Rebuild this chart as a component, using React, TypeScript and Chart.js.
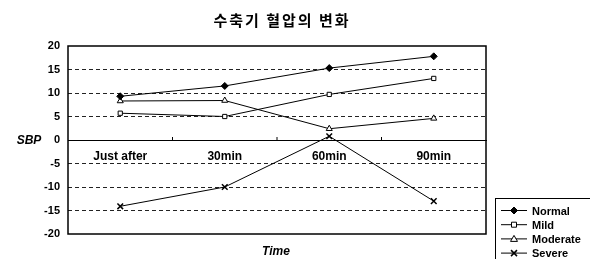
import { useEffect, useRef } from 'react';
import { Chart, registerables } from 'chart.js';

Chart.register(...registerables);

const categories = ['Just after', '30min', '60min', '90min'];
const seriesNames = ['Normal', 'Mild', 'Moderate', 'Severe'];
const normal = [9.3, 11.5, 15.3, 17.8];
const mild = [5.7, 5.0, 9.7, 13.1];
const moderate = [8.3, 8.4, 2.4, 4.6];
const severe = [-14.1, -10.0, 0.8, -13.0];
const yMin = -20;
const yMax = 20;
const yStep = 5;
const titleText = '수축기 혈압의 변화';
const yTitle = 'SBP';
const xTitle = 'Time';

const markerStyles = ['rectRot', 'rect', 'triangle', 'crossRot'];
const markerFill = ['#000', '#fff', '#fff', '#000'];
const markerRadius = [3.5, 3, 3.5, 4];

function drawMarker(ctx: CanvasRenderingContext2D, kind: string, x: number, y: number) {
  ctx.save();
  ctx.strokeStyle = '#000';
  ctx.lineWidth = 1;
  ctx.beginPath();
  if (kind === 'rectRot') {
    ctx.fillStyle = '#000';
    ctx.moveTo(x, y - 3.5); ctx.lineTo(x + 3.5, y); ctx.lineTo(x, y + 3.5); ctx.lineTo(x - 3.5, y); ctx.closePath();
    ctx.fill(); ctx.stroke();
  } else if (kind === 'rect') {
    ctx.fillStyle = '#fff';
    ctx.rect(x - 2.5, y - 2.5, 5, 5); ctx.fill(); ctx.stroke();
  } else if (kind === 'triangle') {
    ctx.fillStyle = '#fff';
    ctx.moveTo(x, y - 3.5); ctx.lineTo(x + 3.5, y + 2.5); ctx.lineTo(x - 3.5, y + 2.5); ctx.closePath();
    ctx.fill(); ctx.stroke();
  } else {
    ctx.lineWidth = 1.5;
    ctx.moveTo(x - 3, y - 3); ctx.lineTo(x + 3, y + 3);
    ctx.moveTo(x + 3, y - 3); ctx.lineTo(x - 3, y + 3); ctx.stroke();
  }
  ctx.restore();
}

const decorPlugin = {
  id: 'decor',
  afterDraw(chart: any) {
    const { ctx, chartArea } = chart;
    const { left, right, top, bottom } = chartArea;
    ctx.save();
    // frame
    ctx.strokeStyle = '#000';
    ctx.lineWidth = 1.5;
    ctx.strokeRect(left, top, right - left, bottom - top);
    // small ticks on zero line at category boundaries
    const xs = chart.scales.x;
    const ys = chart.scales.y;
    const zeroY = ys.getPixelForValue(0);
    ctx.lineWidth = 1;
    for (let i = 0; i < categories.length - 1; i++) {
      const bx = (xs.getPixelForValue(i) + xs.getPixelForValue(i + 1)) / 2;
      ctx.beginPath();
      ctx.moveTo(bx, zeroY);
      ctx.lineTo(bx, zeroY - 3);
      ctx.stroke();
    }
    // title
    ctx.fillStyle = '#000';
    ctx.textAlign = 'center';
    ctx.textBaseline = 'middle';
    ctx.font = 'bold 15px "Noto Sans CJK KR", sans-serif';
    try { (ctx as any).letterSpacing = '2px'; } catch (e) {}
    ctx.fillText(titleText, 282, 20);
    try { (ctx as any).letterSpacing = '0px'; } catch (e) {}
    // axis titles
    ctx.font = 'italic bold 12px "Liberation Sans", Arial, sans-serif';
    ctx.fillText(yTitle, 29, zeroY + 1);
    ctx.fillText(xTitle, 276, 252);
    // legend
    const lx = 495, ly = 198, lw = 100, lh = 70;
    ctx.lineWidth = 1;
    ctx.strokeRect(lx + 0.5, ly + 0.5, lw, lh);
    ctx.font = 'bold 11px "Liberation Sans", Arial, sans-serif';
    ctx.textAlign = 'left';
    chart.data.datasets.forEach((ds: any, i: number) => {
      const y = 210.5 + i * 14.2;
      ctx.beginPath();
      ctx.moveTo(501, y);
      ctx.lineTo(527, y);
      ctx.stroke();
      drawMarker(ctx, markerStyles[i], 514, y);
      ctx.fillStyle = '#000';
      ctx.fillText(ds.label, 532, y + 1);
    });
    ctx.restore();
  },
};

export default function App() {
  const ref = useRef<HTMLCanvasElement | null>(null);
  useEffect(() => {
    if (!ref.current) return;
    const series = [normal, mild, moderate, severe];
    const chart = new Chart(ref.current, {
      type: 'line',
      data: {
        labels: categories,
        datasets: series.map((d, i) => ({
          label: seriesNames[i],
          data: d,
          borderColor: '#000',
          borderWidth: 1,
          pointStyle: markerStyles[i] as any,
          pointRadius: markerRadius[i],
          pointBackgroundColor: markerFill[i],
          pointBorderColor: '#000',
          pointBorderWidth: i === 3 ? 1.5 : 1,
          tension: 0,
        })),
      },
      options: {
        responsive: false,
        animation: false,
        layout: { padding: { left: 0, top: 46, right: 104, bottom: 25 } },
        plugins: { legend: { display: false }, title: { display: false }, tooltip: { enabled: false } },
        scales: {
          x: {
            type: 'category',
            offset: true,
            position: { y: 0 } as any,
            grid: { display: true, drawOnChartArea: false, drawTicks: false, offset: true },
            border: { display: true, color: '#000', width: 1 },
            ticks: {
              padding: 9,
              color: '#000',
              maxRotation: 0,
              font: { family: '"Liberation Sans", Arial, sans-serif', size: 12, weight: 'bold' },
            },
            afterFit(scale: any) { scale.height = 0; },
          },
          y: {
            min: yMin,
            max: yMax,
            ticks: {
              stepSize: yStep,
              padding: 8,
              color: '#000',
              font: { family: '"Liberation Sans", Arial, sans-serif', size: 11, weight: 'bold' },
            },
            grid: {
              drawTicks: false,
              lineWidth: 1,
              color: (c: any) => {
                const v = c.tick ? c.tick.value : 0;
                return v === 0 || v === yMin || v === yMax ? 'rgba(0,0,0,0)' : '#222';
              },
            },
            border: { display: false, dash: [4, 3] },
            afterFit(scale: any) { scale.width = 68; },
          },
        },
      },
      plugins: [decorPlugin],
    });
    return () => chart.destroy();
  }, []);
  return (
    <div style={{ position: 'fixed', left: 0, top: 0, width: 590, height: 259, background: '#fff' }}>
      <canvas ref={ref} width={590} height={259} style={{ display: 'block' }} />
    </div>
  );
}
